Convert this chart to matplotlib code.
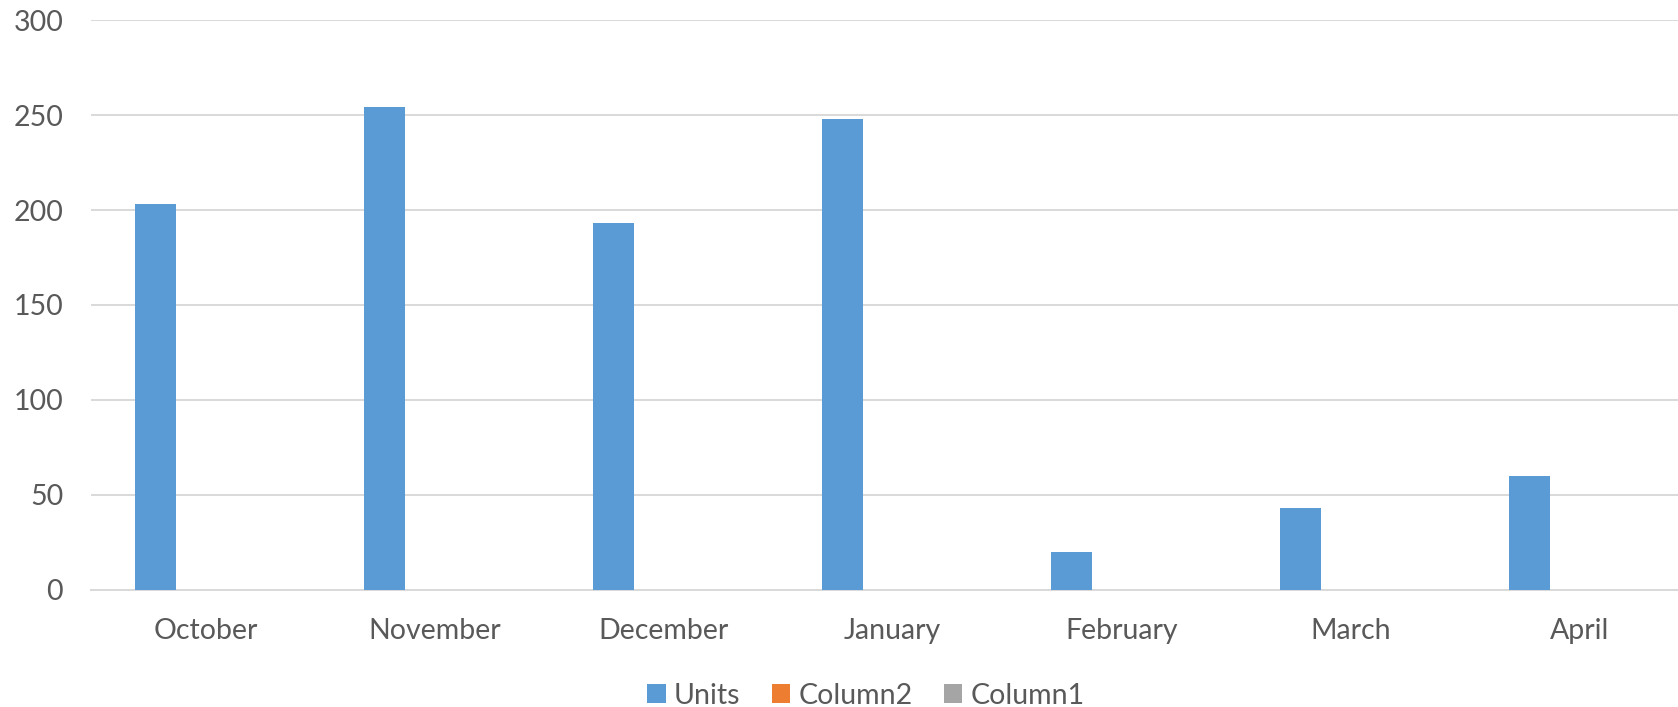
import numpy as np
import matplotlib.pyplot as plt

months = ["October", "November", "December", "January", "February", "March", "April"]
units = [203, 254, 193, 248, 20, 43, 60]
column2 = [0, 0, 0, 0, 0, 0, 0]
column1 = [0, 0, 0, 0, 0, 0, 0]

plt.rcParams['font.family'] = ['Lato', 'DejaVu Sans']
txt = '#595959'

fig = plt.figure(figsize=(16.78, 7.07), dpi=100)
# plot area runs past the right edge, as in the cropped original
ax = fig.add_axes([0.0542, 0.1655, 0.9553, 0.8062])

x = np.arange(len(months))
w = 0.175
step = 0.218
series = [("Units", units, '#5B9BD5'),
          ("Column2", column2, '#ED7D31'),
          ("Column1", column1, '#A5A5A5')]
for i, (name, vals, col) in enumerate(series):
    ax.bar(x + (i - 1) * step, vals, width=w, color=col, label=name, zorder=3)

ax.set_xlim(-0.5, len(months) - 0.5)
ax.set_ylim(0, 300)
ax.set_yticks(range(0, 301, 50))
ax.set_xticks(x)
ax.set_xticklabels(months)
ax.grid(axis='y', color='#d9d9d9', linewidth=1.4, zorder=0)
for s in ['top', 'right', 'left']:
    ax.spines[s].set_visible(False)
ax.spines['bottom'].set_color('#d9d9d9')
ax.spines['bottom'].set_linewidth(1.4)
ax.tick_params(axis='both', length=0, labelsize=20.5, colors=txt)
ax.tick_params(axis='x', pad=20)
ax.tick_params(axis='y', pad=20)

fig.legend(loc='center', bbox_to_anchor=(0.516, 0.016), ncol=3, frameon=False,
           fontsize=20.5, labelcolor=txt, handlelength=0.65, handleheight=0.65,
           handletextpad=0.28, columnspacing=1.1)

fig.savefig('out.png', dpi=100)
